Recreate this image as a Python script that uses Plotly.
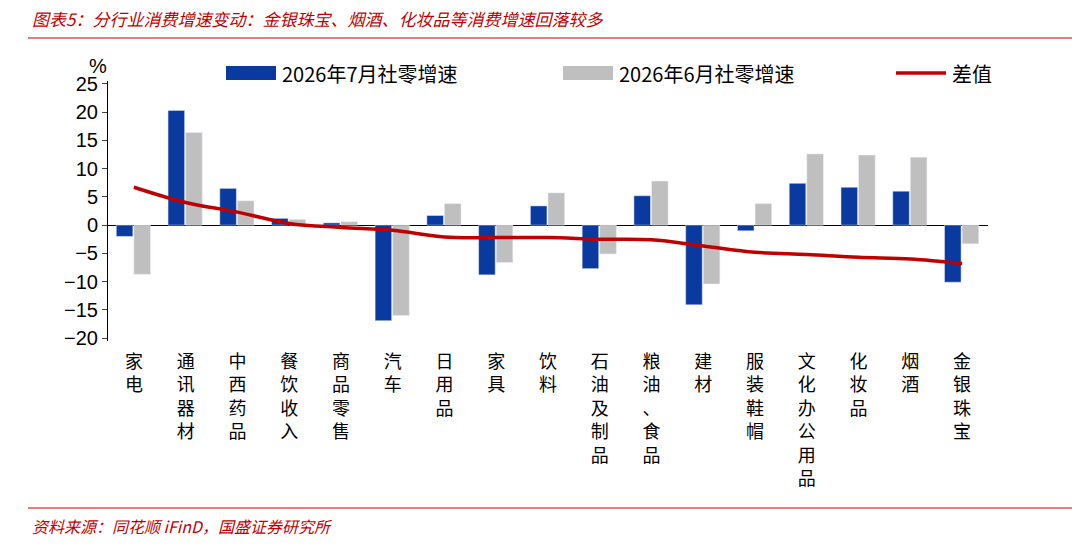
import plotly.graph_objects as go

cats = ["家电","通讯器材","中西药品","餐饮收入","商品零售","汽车","日用品","家具","饮料","石油及制品","粮油、食品","建材","服装鞋帽","文化办公用品","化妆品","烟酒","金银珠宝"]
jul = [-2.0,20.3,6.5,1.2,0.4,-16.9,1.7,-8.8,3.4,-7.7,5.2,-14.1,-1.0,7.4,6.7,6.0,-10.1]
jun = [-8.7,16.4,4.3,1.0,0.6,-16.0,3.8,-6.6,5.7,-5.1,7.8,-10.4,3.8,12.6,12.4,12.0,-3.3]
diff = [6.7,4.0,2.3,0.3,-0.4,-0.9,-2.1,-2.2,-2.2,-2.5,-2.6,-3.7,-4.8,-5.2,-5.7,-6.0,-6.8]
yticks = [25,20,15,10,5,0,-5,-10,-15,-20]
series_names = ["2026年7月社零增速", "2026年6月社零增速", "差值"]
colors = ["#0A3AA0", "#BFBFBF", "#C00000"]

labels = ["<br>".join(list(c)) for c in cats]
font = "Noto Sans CJK SC"
OFF = 8
T, B, L, R = 81 - OFF, 209 + OFF, 100, 100
PH = 550 - T - B
PW = 1080 - L - R
fig = go.Figure()
fig.add_bar(x=labels, y=jul, name=series_names[0], marker_color=colors[0], width=0.32, offset=-0.34)
fig.add_bar(x=labels, y=jun, name=series_names[1], marker_color=colors[1], width=0.32, offset=0.0)
fig.add_scatter(x=labels, y=diff, name=series_names[2], mode="lines", line=dict(color=colors[2], width=3.5, shape="spline"))
fig.update_layout(
    width=1080, height=550, plot_bgcolor="white", paper_bgcolor="white",
    margin=dict(l=L, r=R, t=T, b=B, autoexpand=False),
    font=dict(family=font, size=18, color="black"),
    showlegend=False, bargap=0.3,
)
fig.update_xaxes(showline=False, ticks="", tickfont=dict(size=18), tickangle=0, automargin=False, ticklabelstandoff=8)
fig.update_yaxes(range=[-20.5,25.5], tickvals=yticks, showgrid=False, zeroline=True, zerolinecolor="black", zerolinewidth=1,
                 showline=True, linecolor="black", ticks="outside", tickfont=dict(size=20, family="Arial"), automargin=False)

def px(x): return (x - L) / PW
def py(y): return (550 - B - (y - OFF)) / PH
lx = [218, 555, 888]
for i, x0 in enumerate(lx):
    if i < 2:
        fig.add_shape(type="rect", xref="paper", yref="paper", x0=px(x0), x1=px(x0+50), y0=py(80), y1=py(66),
                      fillcolor=colors[i], line=dict(width=0))
    else:
        fig.add_shape(type="line", xref="paper", yref="paper", x0=px(x0), x1=px(x0+50), y0=py(73), y1=py(73),
                      line=dict(color=colors[i], width=3.5))
    fig.add_annotation(text=series_names[i], x=px(x0+54), y=py(73), xref="paper", yref="paper", showarrow=False,
                       xanchor="left", yanchor="middle", font=dict(size=20))

fig.add_annotation(text="%", x=px(90), y=py(66), xref="paper", yref="paper", showarrow=False, font=dict(size=20, family="Arial"),
                   xanchor="center", yanchor="middle")
fig.add_annotation(text="<i>图表5：分行业消费增速变动：金银珠宝、烟酒、化妆品等消费增速回落较多</i>", x=px(22), y=py(4), xref="paper", yref="paper",
                   yanchor="top", xanchor="left", showarrow=False, font=dict(size=17, color="#C00000"))
fig.add_annotation(text="<i>资料来源：同花顺 iFinD，国盛证券研究所</i>", x=px(22), y=py(512), xref="paper", yref="paper",
                   yanchor="top", xanchor="left", showarrow=False, font=dict(size=16, color="#C00000"))
for yy in [38, 508]:
    fig.add_shape(type="line", xref="paper", yref="paper", x0=px(20), x1=px(1070), y0=py(yy), y1=py(yy), line=dict(color="#C00000", width=1.2))
fig.write_html("out.html")
